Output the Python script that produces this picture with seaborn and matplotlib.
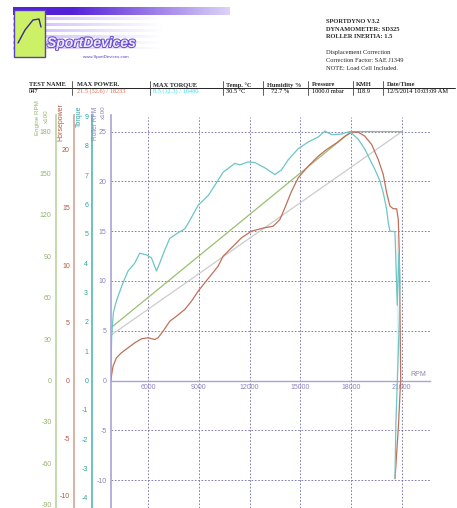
import numpy as np
import pandas as pd
import matplotlib.pyplot as plt
import matplotlib.patheffects as pe
import seaborn as sns

# ---- data ----
torque_rpm = [3793, 3850, 3950, 4100, 4225, 4520, 4817, 5213, 5509, 5905, 6201, 6497, 6692,
              6988, 7284, 7680, 8172, 8467, 8959, 9550, 9947, 10438, 11130, 11426, 11917,
              12313, 12905, 13497, 13893, 14284, 14875, 15467, 16059, 16455, 16852, 17443,
              17935, 18426, 18822, 19118, 19414, 19710, 19905, 20106, 20200, 20300, 20597,
              20733, 20834, 20893, 20852, 20793, 20733, 20650, 20600]
torque = [0, 1.5, 2.3, 2.65, 2.87, 3.33, 3.73, 4.0, 4.34, 4.28, 4.18, 3.73, 4.0,
          4.45, 4.84, 5.0, 5.17, 5.45, 5.97, 6.3, 6.65, 7.1, 7.4, 7.35, 7.45,
          7.43, 7.25, 7.02, 7.18, 7.52, 7.9, 8.13, 8.3, 8.5, 8.38, 8.4,
          8.49, 8.22, 7.88, 7.53, 7.19, 6.8, 6.4, 5.83, 5.38, 5.09, 5.07,
          4.98, 4.35, 3.43, 2.07, 0.94, 0.15, -1.5, -3.3]

hp_rpm = [3793, 3930, 4130, 4426, 4817, 5213, 5610, 6000, 6396, 6592, 6888, 7284, 7680,
          8172, 8568, 8959, 9355, 9751, 10142, 10438, 10935, 11526, 12118, 12804, 13396,
          13793, 14089, 14485, 14875, 15467, 16059, 16556, 17148, 17639, 18035, 18426,
          18822, 19219, 19609, 19905, 20106, 20301, 20497, 20698, 20793, 20852, 20893,
          20935, 20800, 20600]
hp = [0, 1.24, 1.96, 2.4, 2.83, 3.26, 3.61, 3.7, 3.55, 3.7, 4.27, 5.13, 5.57,
      6.15, 6.87, 7.73, 8.46, 9.18, 9.9, 10.76, 11.49, 12.36, 12.93, 13.2, 13.36,
      13.94, 14.95, 16.39, 17.55, 18.55, 19.42, 20.0, 20.58, 21.15, 21.5, 21.5,
      21.15, 20.43, 19.13, 17.84, 16.25, 15.1, 14.87, 14.87, 13.94, 11.05, 6.43,
      0.1, -4.0, -8.5]

engine_rpm_x = [3793, 6000, 9000, 12000, 15000, 18000, 21000]
engine_rpm = [38, 60, 90, 120, 150, 180, 180]

roller_rpm_x = [3850, 21000]
roller_rpm = [4.6, 25]

x_ticks = [6000, 9000, 12000, 15000, 18000, 21000]
engine_ticks = [-90, -60, -30, 0, 30, 60, 90, 120, 150, 180]
hp_ticks = [-10, -5, 0, 5, 10, 15, 20]
torque_ticks = [-4, -3, -2, -1, 0, 1, 2, 3, 4, 5, 6, 7, 8, 9]
roller_ticks = [-10, -5, 0, 5, 10, 15, 20, 25]

table_heads = ["TEST NAME", "MAX POWER.", "MAX TORQUE", "Temp. °C", "Humidity %",
               "Pressure", "KMH", "Date/Time"]
table_vals = ["047", "21.5 (32.6) / 18233", "8.5 (12.3) / 16480", "30.5 °C", "72.7 %",
              "1000.0 mbar", "118.9", "12/5/2014 10:03:09 AM"]

info_lines = ["SPORTDYNO V3.2", "DYNAMOMETER: SD325", "ROLLER INERTIA: 1.5"]
note_lines = ["Displacement Correction", "Correction Factor: SAE J1349",
              "NOTE: Load Cell Included."]

sns.set_style("white")
plt.rcParams['font.family'] = ['Liberation Sans', 'DejaVu Sans']
plt.rcParams['axes.unicode_minus'] = False

W, H = 457, 508
fig = plt.figure(figsize=(W / 100, H / 100), dpi=100)


def fx(px):
    return px / W


def fy(py):
    return 1 - py / H


# colours
c_eng, c_eng_sp = "#8fb56a", "#b9d3a0"
c_hp, c_hp_sp = "#b5553f", "#d3a597"
c_tq, c_tq_sp = "#2aa3a3", "#55b8b5"
c_rol, c_rol_sp = "#8c84bb", "#aaa3d4"
grid_c = "#6e6aa8"

# ---- main plot (roller axis + rpm axis) ----
left, right, top, bottom = 110.7, 430, 115, 508
rect = [fx(left), fy(bottom), (right - left) / W, (bottom - top) / H]
xlim = (3793, 22668)

ax = fig.add_axes(rect)
ax.set_facecolor("none")
ax.set_xlim(*xlim)
ax.set_ylim(-12.81, 26.68)
for s in ["top", "right"]:
    ax.spines[s].set_visible(False)
ax.spines["left"].set_color(c_rol_sp)
ax.spines["left"].set_linewidth(1.2)
ax.spines["bottom"].set_position(("data", 0))
ax.spines["bottom"].set_color(c_rol_sp)
ax.spines["bottom"].set_linewidth(1.0)
ax.set_yticks(roller_ticks)
ax.set_xticks(x_ticks)
ax.set_xticks(np.arange(4000, 22001, 1000), minor=True)
ax.tick_params(axis="y", colors=c_rol_sp, labelcolor=c_rol, labelsize=5, length=2, pad=1)
ax.tick_params(axis="x", which="both", colors=c_rol_sp, labelcolor=c_rol, labelsize=5,
               length=2, direction="inout", pad=1.5)
for y in roller_ticks:
    if y != 0:
        ax.axhline(y, color=grid_c, lw=0.6, ls=(0, (2, 2)), zorder=0)
for x in x_ticks:
    ax.axvline(x, ymax=0.995, color=grid_c, lw=0.6, ls=(0, (2, 2)), zorder=0)
fig.text(fx(418), fy(375), "RPM", color=c_rol, fontsize=5, ha="center", va="center")

sns.lineplot(x=roller_rpm_x, y=roller_rpm, ax=ax, color="#cccccc", lw=0.9)


def side_axis(pos_px, ylim, ticks, sp_col, lab_col):
    a = fig.add_axes(rect)
    a.set_facecolor("none")
    a.set_xlim(*xlim)
    a.set_ylim(*ylim)
    for s in ["top", "right", "bottom"]:
        a.spines[s].set_visible(False)
    a.spines["left"].set_position(("axes", (pos_px - left) / (right - left)))
    a.spines["left"].set_color(sp_col)
    a.spines["left"].set_linewidth(1.2)
    a.set_xticks([])
    a.set_yticks(ticks)
    a.tick_params(axis="y", colors=sp_col, labelcolor=lab_col, labelsize=5, length=2, pad=1)
    return a


ax_eng = side_axis(55.7, (-92.2, 192.0), engine_ticks, c_eng_sp, c_eng)
sns.lineplot(x=engine_rpm_x, y=engine_rpm, ax=ax_eng, color="#98c070", lw=0.9)

ax_hp = side_axis(74.0, (-11.04, 22.99), hp_ticks, c_hp_sp, c_hp)
sns.lineplot(x=hp_rpm, y=hp, ax=ax_hp, color="#c0705a", lw=0.9, sort=False)

ax_tq = side_axis(92.3, (-4.35, 9.05), torque_ticks, c_tq_sp, c_tq)
sns.lineplot(x=torque_rpm, y=torque, ax=ax_tq, color="#6cc6c6", lw=0.9, sort=False)

for a in [ax, ax_eng, ax_hp, ax_tq]:
    a.set_xlabel("")
    a.set_ylabel("")

# axis titles
fig.text(fx(38), fy(118), "Engine RPM", rotation=90, color=c_eng, fontsize=4.5,
         ha="center", va="center")
fig.text(fx(46), fy(116), "x100", rotation=90, color=c_eng, fontsize=4.5,
         ha="center", va="center")
fig.text(fx(61), fy(122), "Horsepower", rotation=90, color=c_hp, fontsize=5,
         ha="center", va="center")
fig.text(fx(79), fy(116), "Torque", rotation=90, color=c_tq, fontsize=5,
         ha="center", va="center")
fig.text(fx(95.5), fy(123), "Roller RPM", rotation=90, color=c_rol, fontsize=4.7,
         ha="center", va="center")
fig.text(fx(103), fy(112), "x100", rotation=90, color=c_rol, fontsize=4.5,
         ha="center", va="center")

# ---- header: logo ----
lax = fig.add_axes([fx(13), fy(62), (230 - 13) / W, (62 - 5) / H])
lh, lw_ = 57, 217
img = np.ones((lh, lw_, 3))
xs = np.linspace(0, 1, lw_)
purple = np.array([0.33, 0.13, 0.85])
lav = np.array([0.78, 0.68, 0.97])
for r in range(lh):
    if 2 <= r < 10:
        fade = np.clip(1.3 - xs * 1.1, 0, 1)
        col = purple
    elif 10 <= r < 44 and (r // 3) % 2 == 0:
        fade = np.clip(0.9 - xs * 1.3, 0, 1)
        col = lav
    else:
        continue
    img[r] = 1 - fade[:, None] * (1 - col[None, :])
lax.imshow(img, aspect="auto", extent=(0, lw_, lh, 0))
lax.add_patch(plt.Rectangle((1, 5), 31, 47, facecolor="#ccf066", edgecolor="#5a3fc0", lw=1))
lax.plot([5, 12, 20, 26, 28], [38, 25, 15, 14, 22], color="#3a2a8a", lw=1)
lax.text(34, 38, "SportDevices", fontsize=10, fontweight="bold", fontstyle="italic",
         color="#eee8ff", va="center", ha="left",
         path_effects=[pe.withStroke(linewidth=1.5, foreground="#6a4fd0")])
lax.text(93, 52, "www.SportDevices.com", fontsize=3.2, color="#5a40c0",
         ha="center", va="center")
lax.set_xlim(0, lw_)
lax.set_ylim(lh, 0)
lax.axis("off")

# ---- header: info text ----
serif = ['Liberation Serif', 'DejaVu Serif']
for i, t in enumerate(info_lines):
    fig.text(fx(326.5), fy(21.7 + i * 7.5), t, fontsize=4.6, family=serif,
             fontweight="bold", va="center")
for i, t in enumerate(note_lines):
    fig.text(fx(326.5), fy(52.7 + i * 7.8), t, fontsize=4.6, family=serif, va="center")

# ---- header: table ----
col_x = [29, 76.7, 153.3, 226, 266.7, 311.7, 356, 386.7]
sep_x = [71.7, 150, 222.7, 263.3, 308.3, 352.7, 382.7]
val_cols = ["black", "#f0624a", "#38e0f0", "black", "black", "black", "black", "black"]
for xh, head, val, vc in zip(col_x, table_heads, table_vals, val_cols):
    fig.text(fx(xh), fy(85), head, fontsize=4.6, family=serif, fontweight="bold",
             va="center")
    fig.text(fx(xh + (4 if head == "Humidity %" else 0)), fy(91.5), val, fontsize=4.6,
             family=serif, color=vc, va="center")
fig.add_artist(plt.Line2D([fx(29), fx(455)], [fy(88), fy(88)], color="black", lw=0.6))
for xs_ in sep_x:
    fig.add_artist(plt.Line2D([fx(xs_), fx(xs_)], [fy(81), fy(95)], color="#444444", lw=0.6))

fig.savefig("out.png", dpi=100)
